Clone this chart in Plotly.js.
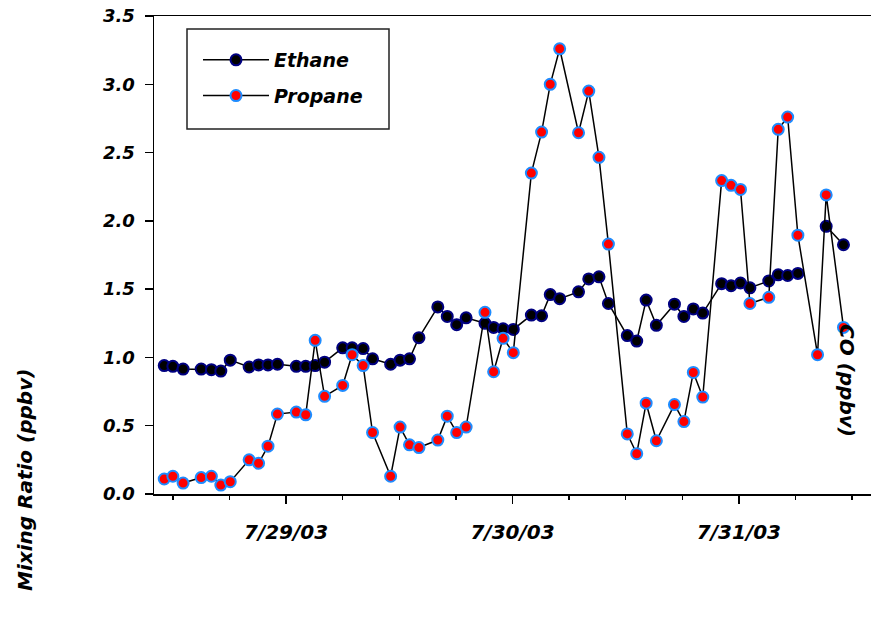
<!DOCTYPE html>
<html>
<head>
<meta charset="utf-8">
<script src="https://cdn.plot.ly/plotly-3.0.1.min.js"></script>
<style>
  html, body { margin: 0; padding: 0; background: #fff; }
  #chart { width: 871px; height: 618px; }
</style>
</head>
<body>
<div id="chart"></div>
<script>
// Sample times (shared by both series)
const times = [
  '2003-07-28 11:05', '2003-07-28 12:00', '2003-07-28 13:05', '2003-07-28 15:00',
  '2003-07-28 16:05', '2003-07-28 17:05', '2003-07-28 18:05', '2003-07-28 20:05',
  '2003-07-28 21:05', '2003-07-28 22:05', '2003-07-28 23:05', '2003-07-29 01:05',
  '2003-07-29 02:05', '2003-07-29 03:05', '2003-07-29 04:05', '2003-07-29 06:00',
  '2003-07-29 07:00', '2003-07-29 08:10', '2003-07-29 09:10', '2003-07-29 11:05',
  '2003-07-29 12:05', '2003-07-29 13:05', '2003-07-29 14:05', '2003-07-29 16:05',
  '2003-07-29 17:05', '2003-07-29 18:05', '2003-07-29 19:05', '2003-07-29 21:05',
  '2003-07-29 22:00', '2003-07-29 23:00', '2003-07-30 00:05', '2003-07-30 02:00',
  '2003-07-30 03:05', '2003-07-30 04:00', '2003-07-30 05:00', '2003-07-30 07:00',
  '2003-07-30 08:05', '2003-07-30 09:10', '2003-07-30 10:10', '2003-07-30 12:10',
  '2003-07-30 13:10', '2003-07-30 14:10', '2003-07-30 15:15', '2003-07-30 17:10',
  '2003-07-30 18:10', '2003-07-30 19:10', '2003-07-30 20:10', '2003-07-30 22:10',
  '2003-07-30 23:10', '2003-07-31 00:10', '2003-07-31 01:10', '2003-07-31 03:10',
  '2003-07-31 04:10', '2003-07-31 05:10', '2003-07-31 06:15', '2003-07-31 08:20',
  '2003-07-31 09:15', '2003-07-31 11:05'
];

// Ethane mixing ratio (ppbv)
const ethane = [
  0.94, 0.935, 0.915, 0.915, 0.91, 0.90, 0.98, 0.93,
  0.945, 0.945, 0.95, 0.935, 0.935, 0.94, 0.965, 1.07,
  1.07, 1.065, 0.99, 0.95, 0.98, 0.99, 1.145, 1.37,
  1.30, 1.24, 1.29, 1.25, 1.22, 1.21, 1.205, 1.31,
  1.305, 1.46, 1.43, 1.48, 1.575, 1.59, 1.395, 1.16,
  1.12, 1.42, 1.235, 1.39, 1.30, 1.355, 1.325, 1.54,
  1.525, 1.545, 1.51, 1.56, 1.605, 1.60, 1.615, null,
  1.96, 1.825
];

// Propane mixing ratio (ppbv)
const propane = [
  0.11, 0.13, 0.08, 0.12, 0.13, 0.065, 0.09, 0.25,
  0.225, 0.35, 0.585, 0.60, 0.58, 1.125, 0.715, 0.795,
  1.02, 0.94, 0.45, 0.13, 0.49, 0.36, 0.34, 0.395,
  0.57, 0.45, 0.49, 1.33, 0.895, 1.14, 1.035, 2.35,
  2.65, 3.00, 3.26, 2.645, 2.95, 2.465, 1.83, 0.44,
  0.295, 0.665, 0.39, 0.655, 0.53, 0.89, 0.71, 2.295,
  2.26, 2.23, 1.395, 1.44, 2.67, 2.76, 1.895, 1.02,
  2.19, 1.22
];

const seriesNames = ['Ethane', 'Propane'];
const yTitle = 'Mixing Ratio (ppbv)';
const rightTitle = 'CO (ppbv)';

const FONT = 'DejaVu Sans';
const bi = (size) => ({ family: FONT, size: size, color: '#000', weight: 'bold', style: 'italic' });

const traces = [
  {
    x: times, y: ethane, name: seriesNames[0], type: 'scatter', mode: 'lines+markers',
    connectgaps: false, legendgroup: 'e',
    line: { color: '#000', width: 1.5 },
    marker: { color: '#000', size: 11, line: { color: '#000080', width: 2 } }
  },
  {
    x: times, y: propane, name: seriesNames[1], type: 'scatter', mode: 'lines+markers',
    legendgroup: 'p',
    line: { color: '#000', width: 1.5 },
    marker: { color: '#ff0000', size: 11, line: { color: '#1e8cff', width: 2 } }
  }
];

const L = 154, T = 16, W = 871, H = 618, B = 124;
const pw = W - L, ph = H - T - B;
const px = (x) => (x - L) / pw;
const py = (y) => (T + ph - y) / ph;

const layout = {
  width: W, height: H,
  margin: { l: L, r: 0, t: T, b: B, pad: 0 },
  paper_bgcolor: '#fff', plot_bgcolor: '#fff',
  showlegend: true,
  legend: {
    x: px(198), y: py(41), xanchor: 'left', yanchor: 'top',
    bgcolor: 'rgba(0,0,0,0)', borderwidth: 0,
    font: bi(19), itemwidth: 66, tracegroupgap: 8, traceorder: 'grouped'
  },
  xaxis: {
    type: 'date',
    range: ['2003-07-28 10:00', '2003-07-31 14:00'],
    tick0: '2003-07-29', dtick: 86400000,
    tickformat: '%-m/%d/%y',
    ticks: 'outside', ticklen: 8, tickwidth: 1.5, tickcolor: '#000',
    minor: { dtick: 21600000, ticks: 'outside', ticklen: 4, tickwidth: 1.5, tickcolor: '#000', showgrid: false },
    showline: true, linecolor: '#000', linewidth: 1.5, mirror: true,
    showgrid: false, zeroline: false,
    tickfont: bi(20), ticklabelstandoff: 11
  },
  yaxis: {
    range: [0, 3.5], dtick: 0.5, tick0: 0, tickformat: '.1f',
    ticks: 'outside', ticklen: 8, tickwidth: 1.5, tickcolor: '#000',
    showline: true, linecolor: '#000', linewidth: 1.5,
    showgrid: false, zeroline: false,
    tickfont: bi(18), ticklabelstandoff: 6
  },
  shapes: [
    { type: 'rect', xref: 'paper', yref: 'paper',
      x0: px(187), x1: px(389), y0: py(129), y1: py(29),
      line: { color: '#222', width: 1.5 }, fillcolor: 'rgba(0,0,0,0)' }
  ],
  annotations: [
    { text: yTitle, xref: 'paper', yref: 'paper', x: px(25), y: py(480),
      xanchor: 'center', yanchor: 'middle', textangle: -90, showarrow: false, font: bi(20) },
    { text: rightTitle, xref: 'paper', yref: 'paper', x: px(847), y: py(380),
      xanchor: 'center', yanchor: 'middle', textangle: 90, showarrow: false, font: bi(20) }
  ]
};

Plotly.newPlot('chart', traces, layout, { displayModeBar: false, staticPlot: true });
</script>
</body>
</html>
